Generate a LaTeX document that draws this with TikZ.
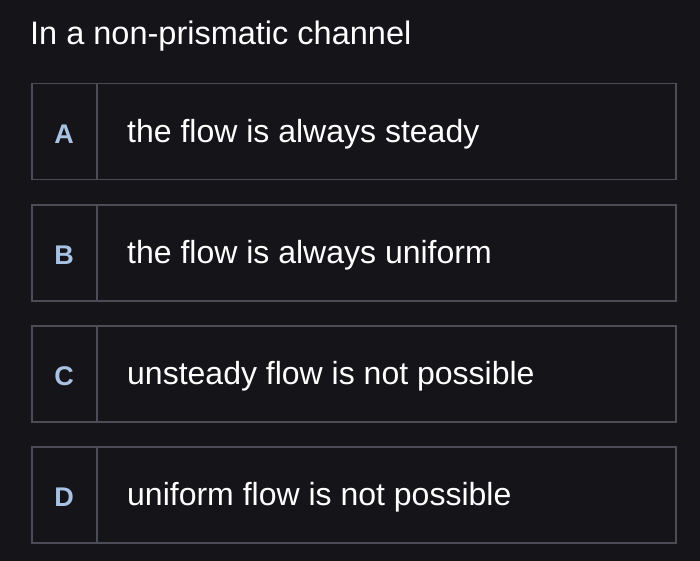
\documentclass[tikz,border=0pt]{standalone}
\usepackage{fontspec}
\setmainfont{Liberation Sans}
\definecolor{bg}{HTML}{141419}
\definecolor{bd}{HTML}{4C4C56}
\definecolor{lt}{HTML}{A9C1E2}
\tikzset{
  opt/.style={draw=bd,line width=1.5pt,minimum width=644pt,minimum height=96pt,anchor=north west,inner sep=0pt},
  lett/.style={text=lt,font=\fontsize{27}{30}\selectfont\bfseries,anchor=center},
  otext/.style={text=white,font=\fontsize{32}{36}\selectfont,anchor=west,inner sep=0pt}
}
\begin{document}
\begin{tikzpicture}[x=1pt,y=-1pt]
\fill[bg] (0,0) rectangle (700,561);
\useasboundingbox (0,0) rectangle (700,561);
\node[text=white,font=\fontsize{32.5}{36}\selectfont,anchor=west,inner sep=0pt] (title) at (30,36) {In a non-prismatic channel};
\foreach \L/\T/\y [count=\i] in {A/the flow is always steady/83,B/the flow is always uniform/204,C/unsteady flow is not possible/325,D/uniform flow is not possible/446}{
  \node[opt] (box\i) at (31,\y) {};
  \draw[bd,line width=1.5pt] ([xshift=66pt]box\i.north west) -- ([xshift=66pt]box\i.south west);
  \node[lett] (l\i) at ([xshift=33pt,yshift=-2pt]box\i.west) {\L};
  \node[otext] (t\i) at ([xshift=96pt,yshift=-2pt]box\i.west) {\T};
}
\end{tikzpicture}
\end{document}
